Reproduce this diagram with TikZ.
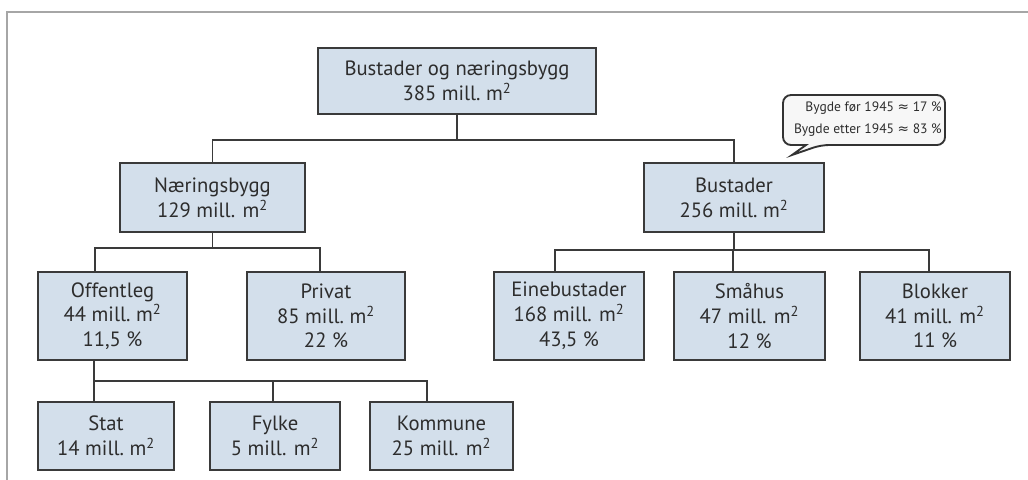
\documentclass[tikz,border=0pt]{standalone}
\usepackage{fontspec}
\setmainfont{PT Sans}
\newfontfamily\dvfont{DejaVu Sans}
\usepackage{xcolor}
\usetikzlibrary{calc}

\definecolor{boxfill}{RGB}{211,223,235}
\definecolor{boxline}{RGB}{58,58,58}
\definecolor{txtgrey}{RGB}{45,45,45}
\newcommand\boksfont{\fontsize{15.5}{18.6}\selectfont}
\newcommand\bublefont{\fontsize{10.2}{17}\selectfont}

\begin{document}
\begin{tikzpicture}[x=0.75pt,y=0.75pt,yscale=-1,xscale=1,
  boks/.style={draw=boxline, fill=boxfill, line width=1.5pt, align=center, inner sep=0pt, text=txtgrey, font=\boksfont},
  leaf/.style={boks, minimum height=66pt},
  kant/.style={draw=boxline, line width=1.1pt},
  bubble/.style={draw=black!80, fill=black!3, line width=1.4pt}]
\useasboundingbox (0,0) rectangle (1028,479);

%Frame
\draw [gray!70, line width=1.5pt] (1030,12) -- (7,12) -- (7,481) ;

% Text Node
\node [boks, minimum width=208.5pt, minimum height=49.5pt] (top) at (457,81) {Bustader og næringsbygg\\385 mill.\ m\textsuperscript{2}};
% Text Node
\node [boks, minimum width=138.75pt, minimum height=51.75pt] (naer) at (212.5,197.5) {Næringsbygg\\129 mill. m\textsuperscript{2}};
% Text Node
\node [boks, minimum width=135pt, minimum height=51.75pt] (bust) at (734,197.5) {Bustader\\256 mill.\ m\textsuperscript{2}};
% Text Node
\node [leaf, minimum width=111.75pt] (off) at (112.5,316) {Offentleg\\44 mill.\ m\textsuperscript{2}\\11,5 \%};
% Text Node
\node [leaf, minimum width=118.5pt] (priv) at (326,316) {Privat\\85 mill.\ m\textsuperscript{2}\\22 \%};
% Text Node
\node [leaf, minimum width=112.5pt] (eine) at (569,316) {Einebustader\\168 mill. m\textsuperscript{2}\\43,5 \%};
% Text Node
\node [leaf, minimum width=113.25pt] (smaa) at (749.5,316) {Småhus\\47 mill. m\textsuperscript{2}\\12 \%};
% Text Node
\node [leaf, minimum width=112.5pt] (blok) at (935,316) {Blokker\\41 mill. m\textsuperscript{2}\\11 \%};
% Text Node
\node [boks, minimum width=102pt, minimum height=51pt] (stat) at (106,436) {Stat\\14 mill.\ m\textsuperscript{2}};
% Text Node
\node [boks, minimum width=97.5pt, minimum height=51pt] (fylk) at (275,436) {Fylke\\5 mill. m\textsuperscript{2}};
% Text Node
\node [boks, minimum width=107.25pt, minimum height=51pt] (komm) at (441.5,436) {Kommune\\25 mill. m\textsuperscript{2}};

%Speech bubble
\draw [bubble, rounded corners=6pt] (806,145) -- (783,145) -- (783,95) -- (945,95) -- (945,145) -- (821,145) [sharp corners] -- (792,155) -- cycle ;
\node [anchor=east, align=right, inner sep=0pt, text=txtgrey, font=\bublefont] (bygde) at (942,119) {Bygde før 1945 {\dvfont ≈} 17 \%\\Bygde etter 1945 {\dvfont ≈} 83 \%};

%Connectors level 1
\coordinate (b1) at (458,140);
\draw [kant] (top.south) -- (top.south |- b1) ;
\draw [kant] (naer.north) |- (b1) -| (bust.north) ;
%Connectors level 2
\coordinate (b2l) at (95,248);
\coordinate (b2r) at (320,248);
\draw [kant] (naer.south) -- (naer.south |- b2l) ;
\draw [kant] (b2l |- off.north) -- (b2l) -- (b2r) -- (b2r |- priv.north) ;
\coordinate (b3l) at (555,250);
\coordinate (b3m) at (733,250);
\coordinate (b3r) at (929,250);
\draw [kant] (bust.south) -- (bust.south |- b3m) ;
\draw [kant] (b3l |- eine.north) -- (b3l) -- (b3r) -- (b3r |- blok.north) ;
\draw [kant] (b3m) -- (b3m |- smaa.north) ;
%Connectors level 3
\coordinate (b4l) at (94,381);
\coordinate (b4m) at (273,381);
\coordinate (b4r) at (427,381);
\draw [kant] (off.south -| b4l) -- (b4l) -- (b4r) -- (b4r |- komm.north) ;
\draw [kant] (b4l) -- (b4l |- stat.north) ;
\draw [kant] (b4m) -- (b4m |- fylk.north) ;

\end{tikzpicture}
\end{document}
